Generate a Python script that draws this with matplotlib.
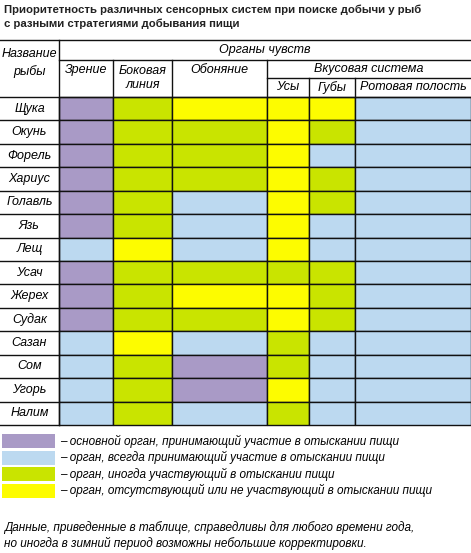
import matplotlib
matplotlib.use("Agg")
import matplotlib.pyplot as plt
from matplotlib.patches import Rectangle

plt.rcParams['font.family'] = ['Liberation Sans Narrow', 'Liberation Sans', 'DejaVu Sans']

fish = ["Щука", "Окунь", "Форель", "Хариус", "Голавль", "Язь", "Лещ",
        "Усач", "Жерех", "Судак", "Сазан", "Сом", "Угорь", "Налим"]
organs = ["Зрение", "Боковая\nлиния", "Обоняние", "Усы", "Губы", "Ротовая полость"]
# P: main, B: always, G: sometimes, Y: absent
grid = ["PGYYYB", "PGGYGB", "PGGYBB", "PGGYGB", "PGBYGB", "PGBYBB", "BYBYBB",
        "PGGGGB", "PGYYGB", "PGGYGB", "BYBGBB", "BGPGBB", "BGPYBB", "BGBGBB"]
legend_codes = ["P", "B", "G", "Y"]
legend_texts = ["– основной орган, принимающий участие в отыскании пищи",
                "– орган, всегда принимающий участие в отыскании пищи",
                "– орган, иногда участвующий в отыскании пищи",
                "– орган, отсутствующий или не участвующий в отыскании пищи"]
colors = {"P": "#a99ac6", "B": "#bcd9f0", "G": "#c9e400", "Y": "#fdfc00"}

W, H = 471, 553
fig = plt.figure(figsize=(W/100, H/100), dpi=100)
ax = fig.add_axes([0, 0, 1, 1])
ax.set_xlim(0, W); ax.set_ylim(H, 0); ax.axis('off')

ax.text(4, 10, "Приоритетность различных сенсорных систем при поиске добычи у рыб",
        fontsize=8.2, fontweight='bold', va='center', color='#222')
ax.text(4, 24, "с разными стратегиями добывания пищи",
        fontsize=8.2, fontweight='bold', va='center', color='#222')

fs = 9
xs = [0, 59, 113, 172, 267, 309, 355, 471]
y0, y1 = 97, 425
rh = (y1 - y0) / len(fish)
lw = 1.0
for i, f in enumerate(fish):
    y = y0 + i * rh
    ax.text(xs[1]/2, y + rh/2, f, ha='center', va='center', fontsize=fs, style='italic')
    for j, c in enumerate(grid[i]):
        ax.add_patch(Rectangle((xs[j+1], y), xs[j+2]-xs[j+1], rh, facecolor=colors[c],
                               edgecolor='#111', lw=lw))
    ax.plot([0, xs[1]], [y+rh, y+rh], color='#111', lw=lw)

# header
hy = [40, 60, 78, 97]
ax.plot([0, W], [hy[0], hy[0]], color='#111', lw=lw)
ax.plot([xs[1], W], [hy[1], hy[1]], color='#111', lw=lw)
ax.plot([xs[4], W], [hy[2], hy[2]], color='#111', lw=lw)
ax.plot([0, W], [hy[3], hy[3]], color='#111', lw=lw)
ax.plot([xs[1], xs[1]], [hy[0], y1], color='#111', lw=lw)
for x in xs[2:5]:
    ax.plot([x, x], [hy[1], hy[3]], color='#111', lw=lw)
for x in xs[5:7]:
    ax.plot([x, x], [hy[2], hy[3]], color='#111', lw=lw)
ax.text(xs[1]/2, 63, "Название\nрыбы", ha='center', va='center', fontsize=fs, style='italic', linespacing=1.5)
ax.text((xs[1]+W)/2, 50, "Органы чувств", ha='center', va='center', fontsize=fs, style='italic')
ax.text((xs[1]+xs[2])/2, 70, organs[0], ha='center', va='center', fontsize=fs, style='italic')
ax.text((xs[2]+xs[3])/2, 78, organs[1], ha='center', va='center', fontsize=fs, style='italic', linespacing=1.3)
ax.text((xs[3]+xs[4])/2, 70, organs[2], ha='center', va='center', fontsize=fs, style='italic')
ax.text((xs[4]+W)/2, 69, "Вкусовая система", ha='center', va='center', fontsize=fs, style='italic')
for j in range(3, 6):
    ax.text((xs[j+1]+xs[j+2])/2, 87.5, organs[j], ha='center', va='center', fontsize=fs, style='italic')

# legend
for k, (c, t) in enumerate(zip(legend_codes, legend_texts)):
    ly = 434 + k * 16.5
    ax.add_patch(Rectangle((2, ly), 53, 14, facecolor=colors[c], edgecolor='none'))
    ax.text(60, ly + 7, t, va='center', fontsize=8.5, style='italic')

ax.text(4, 528, "Данные, приведенные в таблице, справедливы для любого времени года,",
        va='center', fontsize=8.5, style='italic')
ax.text(4, 543, "но иногда в зимний период возможны небольшие корректировки.",
        va='center', fontsize=8.5, style='italic')

fig.savefig("out.png", dpi=100)
